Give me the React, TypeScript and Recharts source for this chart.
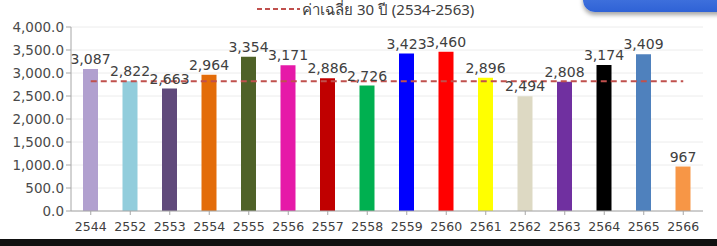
import React from "react";
import {
  ComposedChart, Bar, Line, XAxis, YAxis, CartesianGrid, Cell, LabelList,
} from "recharts";

const years = ["2544", "2552", "2553", "2554", "2555", "2556", "2557", "2558", "2559", "2560", "2561", "2562", "2563", "2564", "2565", "2566"];
const rainfall = [3087, 2822, 2663, 2964, 3354, 3171, 2886, 2726, 3423, 3460, 2896, 2494, 2808, 3174, 3409, 967];
const barColors = ["#B1A0CF", "#92CDDC", "#604A7B", "#E36C09", "#4F6228", "#E619A8", "#C00000", "#00B050", "#0000FF", "#FF0000", "#FFFF00", "#DDD9C3", "#7030A0", "#000000", "#4F81BD", "#F79646"];
const average30 = 2820;
const yTicks = [0, 500, 1000, 1500, 2000, 2500, 3000, 3500, 4000];
const legendLabel = "ค่าเฉลี่ย 30 ปี (2534-2563)";

const data = years.map((year, i) => ({ year, value: rainfall[i], avg: average30 }));

const font = "'DejaVu Sans', Verdana, sans-serif";
const fmtY = (v: number) => v.toLocaleString("en-US", { minimumFractionDigits: 1, maximumFractionDigits: 1 });
const fmtLabel = (v: any) => Number(v).toLocaleString("en-US");

export default function App() {
  return (
    <div style={{ position: "absolute", left: 0, top: 0, width: 717, height: 246, background: "#fff", overflow: "hidden", fontFamily: font }}>
      {/* legend near the top edge */}
      <div style={{ position: "absolute", left: 257, top: 0, display: "flex", alignItems: "center", whiteSpace: "nowrap" }}>
        <svg width={43} height={12}>
          <line x1={0} y1={6} x2={43} y2={6} stroke="#C0504D" strokeWidth={2} strokeDasharray="5 3" />
        </svg>
        <span style={{ fontSize: 15, lineHeight: "18px", color: "#404040", marginLeft: 2, fontFamily: "'Noto Sans', 'DejaVu Sans', sans-serif" }}>{legendLabel}</span>
      </div>

      {/* blue rounded box peeking in at top right */}
      <div style={{ position: "absolute", left: 583, top: -20, width: 160, height: 32, borderRadius: 12, background: "linear-gradient(#5585e6, #2f62d6)", boxShadow: "0 3px 4px rgba(0,0,0,0.35)" }} />

      <div style={{ position: "absolute", left: 0, top: 0 }}>
        <ComposedChart width={717} height={246} data={data} margin={{ top: 27, right: 14, left: 0, bottom: 10 }} barCategoryGap={0}>
          <CartesianGrid vertical={false} stroke="#ececec" />
          <XAxis
            dataKey="year"
            height={25}
            tick={{ fontSize: 12.5, fill: "#404040", fontFamily: font }}
            tickLine={{ stroke: "#a6a6a6" }}
            tickSize={4}
            tickMargin={7}
            axisLine={{ stroke: "#a6a6a6" }}
            interval={0}
          />
          <YAxis
            width={71}
            domain={[0, 4000]}
            ticks={yTicks}
            tickFormatter={fmtY}
            tick={{ fontSize: 13.5, fill: "#4a4a4a", fontFamily: font }}
            tickLine={{ stroke: "#a6a6a6" }}
            tickSize={5}
            axisLine={{ stroke: "#a6a6a6" }}
            interval={0}
          />
          <Bar dataKey="value" barSize={15} isAnimationActive={false}>
            {data.map((d, i) => (
              <Cell key={d.year} fill={barColors[i]} />
            ))}
            <LabelList dataKey="value" position="top" offset={5} formatter={fmtLabel} style={{ fontSize: 14, fill: "#404040", fontFamily: font }} />
          </Bar>
          <Line dataKey="avg" stroke="#C0504D" strokeWidth={2} strokeDasharray="6 4" dot={false} activeDot={false} isAnimationActive={false} />
        </ComposedChart>
      </div>

      {/* dark strip along the bottom edge */}
      <div style={{ position: "absolute", left: 0, top: 239, width: 717, height: 7, background: "#111" }} />
    </div>
  );
}
